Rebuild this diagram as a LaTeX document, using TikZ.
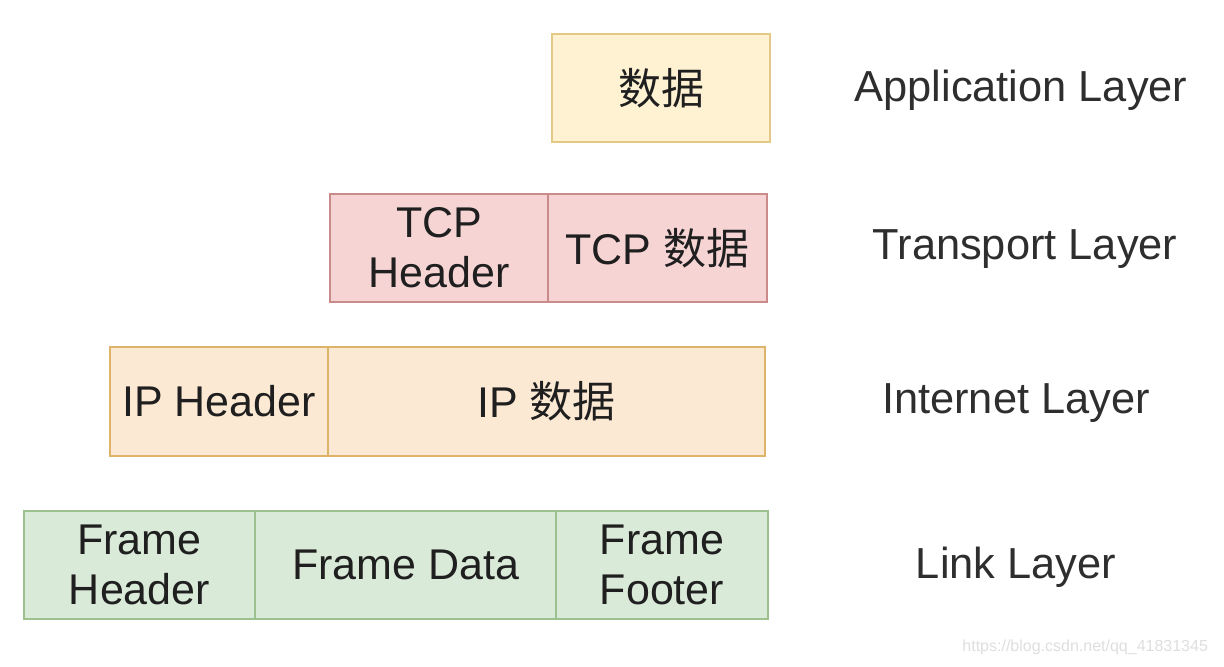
\documentclass[tikz,border=0pt]{standalone}
\usepackage{fontspec}
\setmainfont{Liberation Sans}
\newfontfamily\cjk{Noto Sans CJK SC}
\usetikzlibrary{positioning}
\definecolor{appfill}{HTML}{FFF2D3}
\definecolor{appline}{HTML}{E3C985}
\definecolor{tcpfill}{HTML}{F6D4D4}
\definecolor{tcpline}{HTML}{C98A8A}
\definecolor{ipfill}{HTML}{FCE9D4}
\definecolor{ipline}{HTML}{DDB46A}
\definecolor{linkfill}{HTML}{DAEAD8}
\definecolor{linkline}{HTML}{9CC08E}
\tikzset{
	cell/.style={draw,rectangle,align=center,line width=0.9pt,minimum height=54pt,inner sep=0pt,text=black!88,font=\fontsize{21.5}{25}\selectfont},
	appcell/.style={cell,fill=appfill,draw=appline},
	tcpcell/.style={cell,fill=tcpfill,draw=tcpline},
	ipcell/.style={cell,fill=ipfill,draw=ipline},
	linkcell/.style={cell,fill=linkfill,draw=linkline},
	layer/.style={text=black!82,font=\fontsize{21.7}{26}\selectfont}
}

\begin{document}
\begin{tikzpicture}[x=0.5pt,y=-0.5pt]
			\useasboundingbox (0,0) rectangle (1224,666);
			% application layer
			\node[appcell,minimum width=109pt] (appdata) at (661,88) {\cjk 数据};
			% transport layer
			\node[tcpcell,minimum width=109pt] (tcphead) at (439,248) {TCP\\Header};
			\node[tcpcell,minimum width=109.5pt,right=-0.9pt of tcphead] (tcpdata) {TCP {\cjk 数据}};
			% internet layer
			\node[ipcell,minimum width=109pt,minimum height=54.5pt] (iphead) at (219,401.5) {IP Header};
			\node[ipcell,minimum width=218.5pt,minimum height=54.5pt,right=-0.9pt of iphead] (ipdata) {IP {\cjk 数据}};
			% link layer
			\node[linkcell,minimum width=115.5pt] (framehead) at (139.5,565) {Frame\\Header};
			\node[linkcell,minimum width=150.5pt,right=-0.9pt of framehead] (framedata) {Frame Data};
			\node[linkcell,minimum width=106pt,right=-0.9pt of framedata] (framefoot) {Frame\\Footer};
			
			\node[layer] (applayer) at (1021,90) {Application Layer};
			\node[layer] (translayer) at (1025,249) {Transport Layer};
			\node[layer] (netlayer) at (1016,403) {Internet Layer};
			\node[layer] (linklayer) at (1016,567) {Link Layer};
			
			\node[anchor=east,text=black!13,font=\fontsize{8}{9}\selectfont] (mark) at (1215,647) {https://blog.csdn.net/qq\_41831345};
		\end{tikzpicture}
\end{document}
